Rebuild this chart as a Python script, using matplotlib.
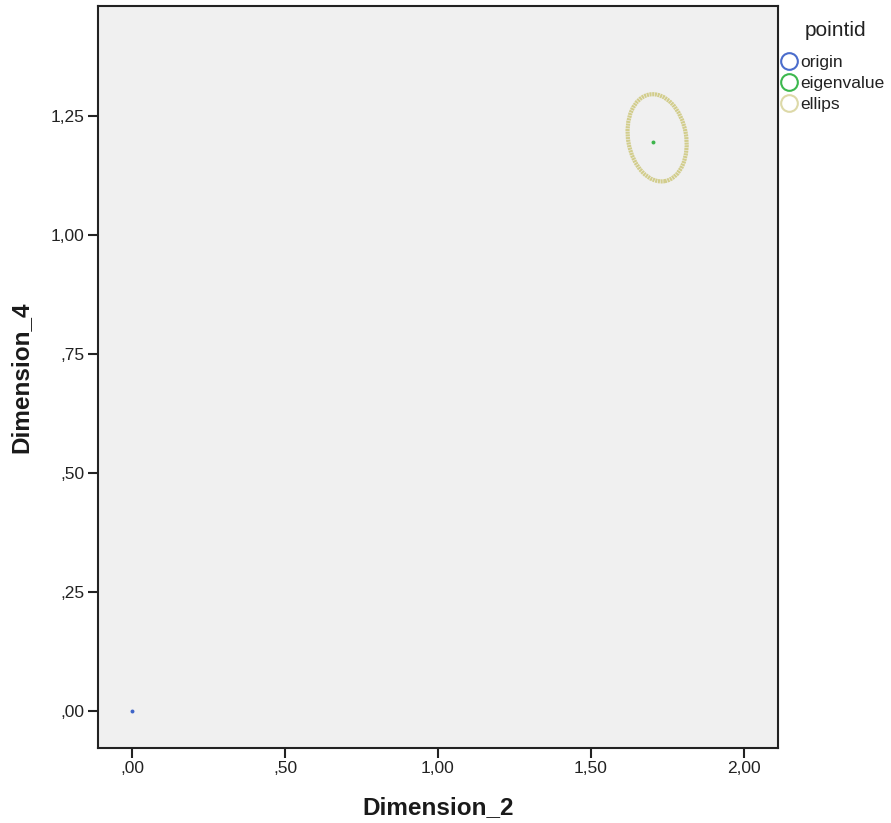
import numpy as np
import matplotlib
matplotlib.use("Agg")
import matplotlib.pyplot as plt
from matplotlib.lines import Line2D
from matplotlib.patches import Circle
from matplotlib.transforms import Affine2D
from matplotlib.ticker import FixedLocator, FuncFormatter

plt.rcParams['font.family'] = ['Liberation Sans', 'DejaVu Sans']

# ---- data ----
origin_x = [0.0]
origin_y = [0.0]
eigen_x = [1.703]
eigen_y = [1.195]
# ellipse: centre and two semi-axis vectors (data units)
ellipse_center = (1.716, 1.204)
ellipse_axis1 = (0.0933, 0.0106)
ellipse_axis2 = (-0.0250, 0.0910)
series_names = ['origin', 'eigenvalue', 'ellips']
x_ticks = [0.0, 0.5, 1.0, 1.5, 2.0]
y_ticks = [0.0, 0.25, 0.5, 0.75, 1.0, 1.25]

colors = {'origin': '#3e64c8', 'eigenvalue': '#3cb44b', 'ellips': '#d2cd8c'}
legend_colors = {'origin': '#4a6ccc', 'eigenvalue': '#3cb84e', 'ellips': '#ddd9a8'}


def fmt(v, pos=None):
    s = f"{v:.2f}".replace('.', ',')
    if s.startswith('0,'):
        s = s[1:]
    return s


fig = plt.figure(figsize=(8.91, 8.23), dpi=100)
ax = fig.add_axes([98 / 891, 1 - 748 / 823, (778 - 98) / 891, (748 - 6) / 823])
ax.set_facecolor('#f0f0f0')

ax.scatter(origin_x, origin_y, s=8, color=colors['origin'], zorder=3, linewidths=0)
ax.scatter(eigen_x, eigen_y, s=8, color=colors['eigenvalue'], zorder=3, linewidths=0)

# ellipse: unit circle mapped by the two semi-axis vectors
aff = Affine2D(np.array([[ellipse_axis1[0], ellipse_axis2[0], ellipse_center[0]],
                         [ellipse_axis1[1], ellipse_axis2[1], ellipse_center[1]],
                         [0, 0, 1]]))
circ = Circle((0, 0), 1.0, fill=False, edgecolor=colors['ellips'], linewidth=3.0,
              linestyle=(0, (0.5, 0.15)), transform=aff + ax.transData, zorder=2)
ax.add_patch(circ)

ax.set_xlim(-0.111, 2.111)
ax.set_ylim(-0.078, 1.481)
ax.xaxis.set_major_locator(FixedLocator(x_ticks))
ax.yaxis.set_major_locator(FixedLocator(y_ticks))
ax.xaxis.set_major_formatter(FuncFormatter(fmt))
ax.yaxis.set_major_formatter(FuncFormatter(fmt))
ax.tick_params(direction='out', length=7.5, width=1.5, color='#222222',
               labelsize=12.5, labelcolor='#222222', pad=2)
for sp in ax.spines.values():
    sp.set_color('#222222')
    sp.set_linewidth(1.5)

ax.set_xlabel('Dimension_2', fontsize=17.5, fontweight='bold', color='#1a1a1a', labelpad=14)
ax.set_ylabel('Dimension_4', fontsize=17.5, fontweight='bold', color='#1a1a1a', labelpad=13)

fig.text(836 / 891, 1 - 30 / 823, 'pointid', fontsize=15, color='#222222',
         ha='center', va='center')
handles = [Line2D([], [], marker='o', linestyle='none', markersize=12,
                  markerfacecolor='none', markeredgecolor=legend_colors[n],
                  markeredgewidth=1.5) for n in series_names]
leg = fig.legend(handles, series_names, loc='upper left',
                 bbox_to_anchor=(782 / 891, 1 - 55 / 823), frameon=False,
                 fontsize=12.5, handlelength=0.85, borderpad=0,
                 handletextpad=0.2, labelspacing=0.33, borderaxespad=0)
for t in leg.get_texts():
    t.set_color('#222222')

fig.savefig('out.png', dpi=100, facecolor='white')
